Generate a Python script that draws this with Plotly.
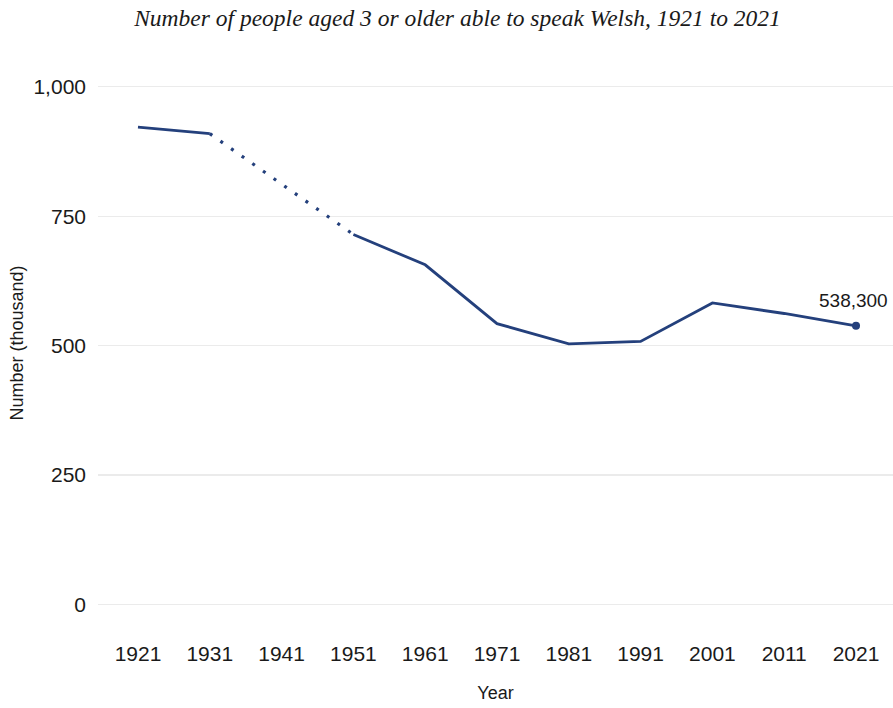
import plotly.graph_objects as go

years = [1921, 1931, 1951, 1961, 1971, 1981, 1991, 2001, 2011, 2021]
speakers_thousand = [922.1, 909.3, 714.7, 656.0, 542.4, 503.5, 508.1, 582.4, 562.0, 538.3]
tick_years = [1921, 1931, 1941, 1951, 1961, 1971, 1981, 1991, 2001, 2011, 2021]
y_ticks = [0, 250, 500, 750, 1000]
last_label = "538,300"

LINE = "#24407c"
TXT = "#1a1a1a"
SANS = "Liberation Sans, Arial, sans-serif"

seg1_x = [y for y in years if y <= 1931]
seg1_y = [v for y, v in zip(years, speakers_thousand) if y <= 1931]
gap_x = [y for y in years if 1931 <= y <= 1951]
gap_y = [v for y, v in zip(years, speakers_thousand) if 1931 <= y <= 1951]
seg2_x = [y for y in years if y >= 1951]
seg2_y = [v for y, v in zip(years, speakers_thousand) if y >= 1951]

fig = go.Figure()
fig.add_trace(go.Scatter(x=seg1_x, y=seg1_y, mode="lines",
                         line=dict(color=LINE, width=2.8), hoverinfo="skip"))
fig.add_trace(go.Scatter(x=gap_x, y=gap_y, mode="lines",
                         line=dict(color=LINE, width=3.2, dash="3px,10px"), hoverinfo="skip"))
fig.add_trace(go.Scatter(x=seg2_x, y=seg2_y, mode="lines",
                         line=dict(color=LINE, width=2.8), hoverinfo="skip"))
fig.add_trace(go.Scatter(x=[years[-1]], y=[speakers_thousand[-1]], mode="markers",
                         marker=dict(color=LINE, size=8), hoverinfo="skip"))

fig.add_annotation(x=years[-1], y=speakers_thousand[-1], text=last_label,
                   showarrow=False, yshift=25, xshift=-3,
                   font=dict(family=SANS, size=19, color=TXT))

fig.update_layout(
    width=893, height=708,
    paper_bgcolor="white", plot_bgcolor="white",
    showlegend=False,
    margin=dict(l=98, r=0, t=66, b=87.5),
    title=dict(text="Number of people aged 3 or older able to speak Welsh, 1921 to 2021",
               xref="container", x=457.5 / 893, xanchor="center",
               y=1 - 18 / 708, yanchor="middle",
               font=dict(family="Liberation Serif, serif", size=23.5, color=TXT,
                         style="italic")),
    font=dict(family=SANS, color=TXT),
)
fig.update_xaxes(range=[1915.43, 2026.15], tickmode="array", tickvals=tick_years,
                 ticktext=[str(t) for t in tick_years],
                 showgrid=False, zeroline=False, showline=False, ticks="",
                 tickfont=dict(size=21, color=TXT), ticklabelstandoff=19,
                 title=dict(text="Year", font=dict(size=18, color=TXT), standoff=22))
fig.update_yaxes(range=[-30, 1040], tickmode="array", tickvals=y_ticks,
                 tickformat=",", showgrid=True, gridcolor="#ebebeb", gridwidth=1.3,
                 zeroline=False, showline=False, ticks="",
                 tickfont=dict(size=21, color=TXT), ticklabelstandoff=11,
                 title=dict(text="Number (thousand)", font=dict(size=18, color=TXT), standoff=5))

fig.write_html(
    "out.html",
    config={"displayModeBar": False, "staticPlot": True},
    post_script="document.body.style.margin='0';document.documentElement.style.overflow='hidden';document.body.style.overflow='hidden';",
)
